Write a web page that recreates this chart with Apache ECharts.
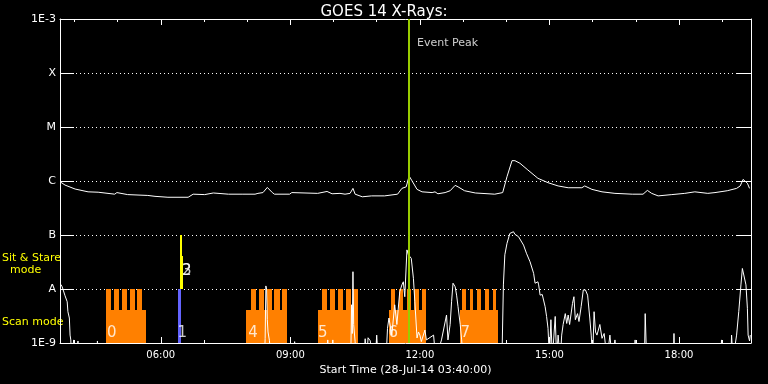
<!DOCTYPE html>
<html><head><meta charset="utf-8">
<script src="https://cdn.jsdelivr.net/npm/echarts@6/dist/echarts.min.js"></script>
<style>html,body{margin:0;padding:0;background:#000;}#c{width:768px;height:384px;}</style>
</head><body><div id="c"></div>
<script>
// ---- data ----
const startTime = '03:40', endTime = '19:40';
const hourTicks = ['04:00','05:00','06:00','07:00','08:00','09:00','10:00','11:00','12:00','13:00','14:00','15:00','16:00','17:00','18:00','19:00'];
const labelTicks = ['06:00','09:00','12:00','15:00','18:00'];
const levelLabels = ['1E-9','A','B','C','M','X','1E-3'];

// GOES 1-8 A channel (W/m^2)
const longTimes = ['03:41','03:47','04:01','04:19','04:33','04:56','04:59','05:14','05:42','05:52','06:10','06:38','06:45','07:01','07:13','07:34','07:53','08:11','08:15','08:22','08:28','08:35','08:38','08:59','09:02','09:38','09:51','09:58','10:09','10:16','10:23','10:27','10:30','10:40','10:53','11:11','11:29','11:35','11:41','11:45','11:49','11:56','12:03','12:17','12:21','12:25','12:35','12:42','12:49','12:53','13:02','13:17','13:44','13:55','14:01','14:08','14:12','14:19','14:30','14:44','14:58','15:12','15:26','15:45','15:49','15:59','16:13','16:31','16:55','17:10','17:16','17:22','17:31','17:50','18:08','18:22','18:40','18:50','19:07','19:20','19:25','19:29','19:35','19:38'];
const longFlux = [9.5e-7,8.4e-7,7.1e-7,6.3e-7,6.2e-7,5.7e-7,6.1e-7,5.6e-7,5.4e-7,5.2e-7,5.0e-7,5.0e-7,5.7e-7,5.6e-7,6.0e-7,5.7e-7,5.7e-7,5.7e-7,5.9e-7,6.1e-7,7.6e-7,6.1e-7,5.7e-7,5.7e-7,6.1e-7,5.9e-7,6.4e-7,5.8e-7,5.9e-7,5.7e-7,5.9e-7,7.3e-7,5.7e-7,5.1e-7,5.3e-7,5.3e-7,5.7e-7,7.3e-7,7.8e-7,1.24e-6,1.01e-6,7.0e-7,6.3e-7,6.1e-7,6.3e-7,5.8e-7,6.1e-7,6.6e-7,8.3e-7,7.8e-7,6.6e-7,6.0e-7,5.7e-7,6.1e-7,1.2e-6,2.38e-6,2.38e-6,2.13e-6,1.6e-6,1.12e-6,9.3e-7,8.1e-7,7.5e-7,7.5e-7,8.1e-7,7.0e-7,6.3e-7,5.9e-7,5.7e-7,5.7e-7,6.7e-7,5.9e-7,5.3e-7,5.6e-7,5.9e-7,6.3e-7,5.9e-7,6.1e-7,6.6e-7,7.3e-7,8.1e-7,1.07e-6,9.1e-7,7.3e-7];

// GOES 0.5-4 A channel (W/m^2); 5e-10 = below plot floor
const shortTimes = ['03:41','03:43','03:45','03:47','03:50','03:51','03:53','03:54','03:55','03:56','03:59','04:01','04:05','04:07','04:31','04:32','04:33',
 '08:24','08:25','08:26','08:27','08:28','08:29','08:31','08:33','09:05','09:06','09:07','09:50','09:52','09:54','09:57','09:59','10:01',
 '10:24','10:25','10:26','10:27','10:28','10:30','10:31','10:42','10:44','10:46','10:48','10:51','10:54','10:58','11:00','11:02',
 '11:13','11:15','11:17','11:21','11:25','11:28','11:32','11:35','11:37','11:39','11:42','11:44','11:46','11:48','11:51','11:53','11:56','11:58','12:00','12:02','12:07','12:09','12:19','12:22','12:30','12:37','12:39','12:42','12:44','12:46','12:49','12:51','12:53','12:56','12:58','13:00',
 '13:54','13:56','13:58','14:01','14:05','14:10','14:12','14:17','14:19','14:24','14:28','14:33','14:38','14:40','14:44','14:45','14:47','14:50','14:54','14:56','14:58','15:00','15:02','15:04','15:08','15:10','15:12','15:15','15:17','15:19','15:22','15:24','15:26','15:28','15:32','15:34','15:36','15:39','15:41','15:44','15:47','15:50','15:53','15:56','15:58','16:00','16:02','16:04','16:06','16:10','16:13','16:16','16:20','16:24','16:27','16:31','16:34',
 '16:57','16:59','17:01','17:12','17:13','17:14','17:15','17:52','17:53','17:54','18:58','18:59','19:00','19:12','19:13','19:15','19:20','19:23','19:26','19:28','19:30','19:33','19:35','19:36','19:38','19:39'];
const shortFlux = [1.22e-8,1.1e-8,1.06e-8,7.5e-9,5.8e-9,3.8e-9,2.9e-9,1.4e-9,1.14e-9,5e-10,1.14e-9,5e-10,1.09e-9,5e-10,5e-10,1.09e-9,5e-10,
 5e-10,1.2e-9,1.14e-8,1.0e-8,2.7e-9,1.6e-9,1.1e-9,5e-10,5e-10,1.06e-9,5e-10,5e-10,1.14e-9,5e-10,5e-10,1.14e-9,5e-10,
 5e-10,5.1e-9,1.5e-9,2.09e-8,2.2e-9,1.06e-9,5e-10,5e-10,1.2e-9,5e-10,1.25e-9,1.1e-9,5e-10,5e-10,1.4e-9,5e-10,
 5e-10,1.87e-9,2.9e-9,1.4e-9,5.1e-9,2.2e-9,8.9e-9,1.19e-8,1.36e-8,7.2e-9,5.3e-8,4.3e-8,4.0e-8,3.7e-8,1.58e-8,5.8e-9,1.24e-9,1.6e-9,1.4e-9,1.06e-9,1.74e-9,1.14e-9,1.4e-9,5e-10,1.14e-9,3.3e-9,1.14e-9,2.2e-9,5.8e-9,1.28e-8,1.1e-8,7.7e-9,4.7e-9,2.2e-9,1.14e-9,5e-10,
 5e-10,1.19e-8,4.3e-8,7.0e-8,1.07e-7,1.15e-7,1.03e-7,9.3e-8,8.7e-8,6.5e-8,4.6e-8,3.2e-8,1.95e-8,1.28e-8,1.36e-8,1.19e-8,7.7e-9,7.9e-9,4.7e-9,3.1e-9,1.87e-9,5e-10,2.7e-9,5e-10,3.1e-9,5e-10,1.4e-9,5e-10,1.4e-9,2.2e-9,3.5e-9,2.3e-9,3.3e-9,2.2e-9,5.4e-9,7.2e-9,2.7e-9,3.5e-9,2.5e-9,4.7e-9,9.6e-9,9.6e-9,7.7e-9,2.9e-9,1.4e-9,5e-10,3.8e-9,1.6e-9,1.4e-9,2.2e-9,1.22e-9,1.5e-9,5e-10,1.4e-9,5e-10,1.14e-9,5e-10,
 5e-10,1.14e-9,5e-10,5e-10,3.5e-9,3.3e-9,5e-10,5e-10,1.5e-9,5e-10,5e-10,1.14e-9,5e-10,5e-10,1.4e-9,5e-10,1.4e-9,3.8e-9,1.19e-8,2.4e-8,2.6e-8,1.19e-8,4.4e-9,1.4e-9,1.09e-9,1.4e-9];

// Scan-mode blocks (orange): base level and full-height teeth
const scanLevel = 4.1e-9, fullLevel = 1e-8, floorFlux = 1e-9;
const scanStart = ['04:44','07:59','09:38','11:17','12:56'];
const scanEnd   = ['05:40','08:55','10:34','12:09','13:49'];
const toothStart = ['04:44','04:55','05:06','05:17','05:27', '08:05','08:16','08:27','08:38','08:49', '09:44','09:55','10:06','10:17','10:27', '11:20','11:31','11:42','11:52','12:03', '12:58','13:09','13:20','13:30','13:41'];
const toothEnd   = ['04:51','05:02','05:13','05:24','05:34', '08:12','08:23','08:34','08:45','08:55', '09:51','10:02','10:13','10:24','10:34', '11:26','11:37','11:48','11:59','12:09', '13:04','13:14','13:25','13:36','13:46'];

// Short mode bars: 1 = scan (blue), 2/3 = sit & stare (yellow)
const modeBarStart = ['06:24','06:27','06:29'];
const modeBarEnd   = ['06:28','06:30','06:31'];
const modeBarLow   = [1e-9, 1e-8, 1e-8];
const modeBarHigh  = [1e-8, 1e-7, 4.14e-8];
const modeBarColor = ['#6464ff','#ffff00','#ffff00'];

// Mode number labels
const modeIds = ['0','1','4','5','6','7','2','3'];
const modeLabelTimes = ['04:52','06:30','08:08','09:45','11:23','13:03','06:36','06:36'];
const modeLabelFlux = [1.53e-9,1.53e-9,1.53e-9,1.53e-9,1.53e-9,1.53e-9,2.1e-8,2.1e-8];

const eventPeak = '11:45';
const eventLabelFlux = 3.6e-4;

// ---- helpers ----
const toMin = s => { const p = s.split(':'); return (+p[0]) * 60 + (+p[1]); };
const fmt = v => { const h = Math.floor(v / 60), m = Math.round(v % 60); return String(h).padStart(2,'0') + ':' + String(m).padStart(2,'0'); };
const lg = v => Math.log10(v);
const FONT = 'DejaVu Sans';
const xMin = toMin(startTime), xMax = toMin(endTime);

const rectRender = (fillFn) => (params, api) => {
  const p0 = api.coord([api.value(0), api.value(3)]);
  const p1 = api.coord([api.value(1), api.value(2)]);
  const x0 = Math.round(p0[0]), x1 = Math.round(p1[0]);
  const y0 = Math.round(p0[1]), y1 = Math.round(p1[1]);
  return { type: 'rect', shape: { x: x0, y: y0, width: Math.max(1, x1 - x0), height: y1 - y0 },
           style: { fill: fillFn(params.dataIndex) } };
};

const scanData = scanStart.map((s, i) => [toMin(s), toMin(scanEnd[i]), lg(floorFlux), lg(scanLevel)]);
const toothData = toothStart.map((s, i) => [toMin(s), toMin(toothEnd[i]), lg(floorFlux), lg(fullLevel)]);
const modeData = modeBarStart.map((s, i) => [toMin(s), toMin(modeBarEnd[i]), lg(modeBarLow[i]), lg(modeBarHigh[i])]);

const xCommon = { type: 'value', min: xMin, max: xMax, gridIndex: 0, splitLine: { show: false } };
const tickHours = hourTicks.map(toMin), tickLabels = labelTicks.map(toMin);

const chart = echarts.init(document.getElementById('c'), null, { renderer: 'canvas' });
chart.setOption({
  backgroundColor: '#000',
  animation: false,
  textStyle: { fontFamily: FONT },
  title: { text: 'GOES 14 X-Rays:', left: 'center', top: 0,
           textStyle: { color: '#fff', fontSize: 15, fontWeight: 'normal', fontFamily: FONT } },
  grid: { left: 60, top: 19, width: 691, height: 324, containLabel: false },
  xAxis: [
    Object.assign({}, xCommon, { position: 'bottom',
      axisLine: { show: true, lineStyle: { color: '#fff', width: 1 } },
      axisTick: { show: true, inside: true, length: 3, customValues: tickHours, lineStyle: { color: '#fff' } },
      axisLabel: { show: true, customValues: tickLabels, formatter: v => fmt(v), color: '#fff', fontSize: 10, margin: 7, fontFamily: FONT },
      name: 'Start Time (28-Jul-14 ' + startTime + ':00)', nameLocation: 'middle', nameGap: 20,
      nameTextStyle: { color: '#fff', fontSize: 11, fontFamily: FONT } }),
    Object.assign({}, xCommon, { position: 'bottom',
      axisLine: { show: false }, axisLabel: { show: false },
      axisTick: { show: true, inside: true, length: 6, customValues: tickLabels, lineStyle: { color: '#fff' } } }),
    Object.assign({}, xCommon, { position: 'top',
      axisLine: { show: true, lineStyle: { color: '#fff', width: 1 } }, axisLabel: { show: false },
      axisTick: { show: true, inside: true, length: 3, customValues: tickHours, lineStyle: { color: '#fff' } } }),
    Object.assign({}, xCommon, { position: 'top',
      axisLine: { show: false }, axisLabel: { show: false },
      axisTick: { show: true, inside: true, length: 6, customValues: tickLabels, lineStyle: { color: '#fff' } } })
  ],
  yAxis: [
    { type: 'value', min: -9, max: -3, interval: 1, position: 'left',
      axisLine: { show: true, lineStyle: { color: '#fff' } },
      axisTick: { show: true, inside: true, length: 14, lineStyle: { color: '#fff' } },
      axisLabel: { color: '#fff', fontSize: 11, margin: 4, fontFamily: FONT,
                   formatter: v => levelLabels[Math.round(v + 9)] },
      splitLine: { show: true, lineStyle: { color: '#fff', width: 1, type: [1, 3] } } },
    { type: 'value', min: -9, max: -3, interval: 1, position: 'right',
      axisLine: { show: true, lineStyle: { color: '#fff' } },
      axisTick: { show: true, inside: true, length: 14, lineStyle: { color: '#fff' } },
      axisLabel: { show: false }, splitLine: { show: false } }
  ],
  graphic: [
    { type: 'text', left: 2, top: 253, style: { text: 'Sit & Stare', fill: '#ffff00', font: '11px "DejaVu Sans"' } },
    { type: 'text', left: 10, top: 265, style: { text: 'mode', fill: '#ffff00', font: '11px "DejaVu Sans"' } },
    { type: 'text', left: 2, top: 317, style: { text: 'Scan mode', fill: '#ffff00', font: '11px "DejaVu Sans"' } }
  ],
  series: [
    { type: 'custom', name: 'scan', renderItem: rectRender(() => '#ff8000'), data: scanData,
      encode: { x: [0, 1], y: [2, 3] }, silent: true, z: 1 },
    { type: 'custom', name: 'teeth', renderItem: rectRender(() => '#ff8000'), data: toothData,
      encode: { x: [0, 1], y: [2, 3] }, silent: true, z: 1 },
    { type: 'custom', name: 'modes', renderItem: rectRender(i => modeBarColor[i]), data: modeData,
      encode: { x: [0, 1], y: [2, 3] }, silent: true, z: 2 },
    { type: 'line', name: 'short', data: shortTimes.map((t, i) => [toMin(t), lg(shortFlux[i])]),
      showSymbol: false, symbol: 'none', lineStyle: { color: '#fff', width: 1 }, clip: true, z: 3 },
    { type: 'line', name: 'long', data: longTimes.map((t, i) => [toMin(t), lg(longFlux[i])]),
      showSymbol: false, symbol: 'none', lineStyle: { color: '#fff', width: 1 }, clip: true, z: 3 },
    { type: 'scatter', name: 'labels', symbolSize: 0, z: 4,
      data: modeIds.map((id, i) => ({ name: id, value: [toMin(modeLabelTimes[i]), lg(modeLabelFlux[i])] })),
      label: { show: true, position: 'inside', formatter: p => p.name, color: '#fff', fontSize: 15, fontFamily: FONT } },
    { type: 'scatter', name: 'event', symbolSize: 0, z: 5,
      data: [{ name: 'Event Peak', value: [toMin(eventPeak), lg(eventLabelFlux)] }],
      label: { show: true, position: 'right', distance: 8, formatter: p => p.name, color: '#fff', fontSize: 11, fontFamily: FONT },
      markLine: { silent: true, symbol: 'none', label: { show: false },
                  lineStyle: { color: '#99cc00', width: 2, type: 'solid' },
                  data: [{ xAxis: toMin(eventPeak) }] } }
  ]
});
</script>
</body></html>
